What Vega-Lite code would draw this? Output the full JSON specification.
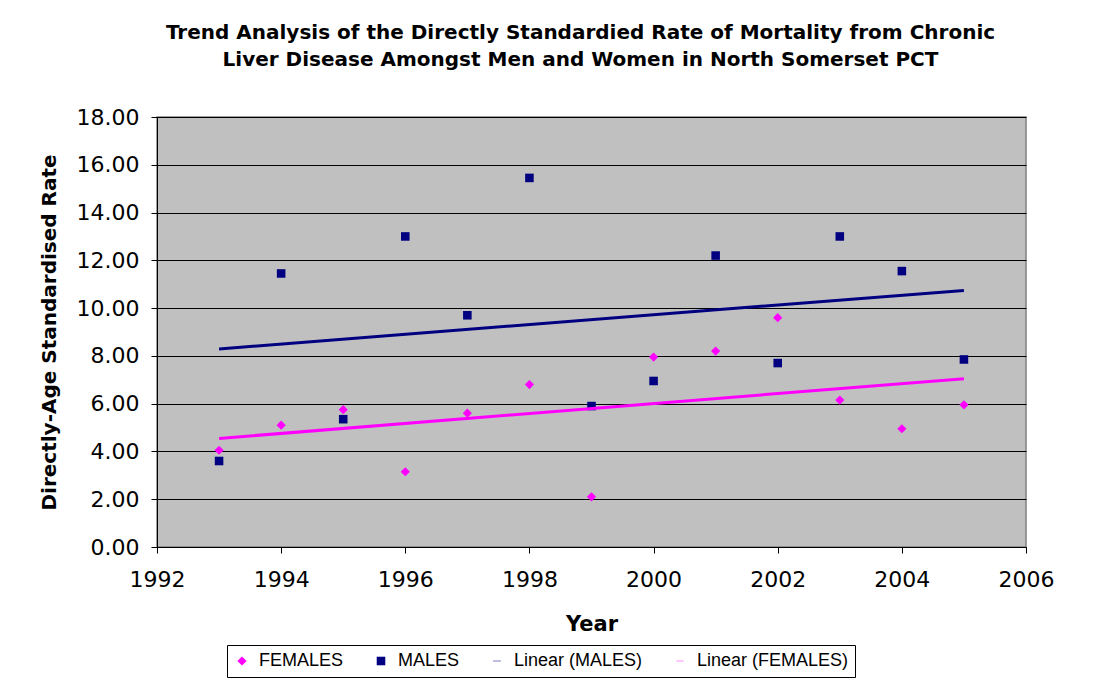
{
  "$schema": "https://vega.github.io/schema/vega-lite/v6.json",
  "width": 869,
  "height": 430,
  "autosize": "none",
  "padding": {"left": 157, "top": 117, "right": 84, "bottom": 134},
  "background": "white",
  "title": {
    "text": ["Trend Analysis of the Directly Standardied Rate of Mortality from Chronic", "Liver Disease Amongst Men and Women in North Somerset PCT"],
    "font": "DejaVu Sans",
    "fontSize": 20,
    "fontWeight": "bold",
    "color": "black",
    "anchor": "middle",
    "dx": -11,
    "offset": 36,
    "lineHeight": 27
  },
  "data": {
    "values": [
      {"year": 1993, "rate": 4.05, "series": "FEMALES", "trend": "Linear (FEMALES)"},
      {"year": 1994, "rate": 5.10, "series": "FEMALES", "trend": "Linear (FEMALES)"},
      {"year": 1995, "rate": 5.75, "series": "FEMALES", "trend": "Linear (FEMALES)"},
      {"year": 1996, "rate": 3.15, "series": "FEMALES", "trend": "Linear (FEMALES)"},
      {"year": 1997, "rate": 5.60, "series": "FEMALES", "trend": "Linear (FEMALES)"},
      {"year": 1998, "rate": 6.80, "series": "FEMALES", "trend": "Linear (FEMALES)"},
      {"year": 1999, "rate": 2.10, "series": "FEMALES", "trend": "Linear (FEMALES)"},
      {"year": 2000, "rate": 7.95, "series": "FEMALES", "trend": "Linear (FEMALES)"},
      {"year": 2001, "rate": 8.20, "series": "FEMALES", "trend": "Linear (FEMALES)"},
      {"year": 2002, "rate": 9.60, "series": "FEMALES", "trend": "Linear (FEMALES)"},
      {"year": 2003, "rate": 6.15, "series": "FEMALES", "trend": "Linear (FEMALES)"},
      {"year": 2004, "rate": 4.95, "series": "FEMALES", "trend": "Linear (FEMALES)"},
      {"year": 2005, "rate": 5.95, "series": "FEMALES", "trend": "Linear (FEMALES)"},
      {"year": 1993, "rate": 3.60, "series": "MALES", "trend": "Linear (MALES)"},
      {"year": 1994, "rate": 11.45, "series": "MALES", "trend": "Linear (MALES)"},
      {"year": 1995, "rate": 5.35, "series": "MALES", "trend": "Linear (MALES)"},
      {"year": 1996, "rate": 13.00, "series": "MALES", "trend": "Linear (MALES)"},
      {"year": 1997, "rate": 9.70, "series": "MALES", "trend": "Linear (MALES)"},
      {"year": 1998, "rate": 15.45, "series": "MALES", "trend": "Linear (MALES)"},
      {"year": 1999, "rate": 5.90, "series": "MALES", "trend": "Linear (MALES)"},
      {"year": 2000, "rate": 6.95, "series": "MALES", "trend": "Linear (MALES)"},
      {"year": 2001, "rate": 12.20, "series": "MALES", "trend": "Linear (MALES)"},
      {"year": 2002, "rate": 7.70, "series": "MALES", "trend": "Linear (MALES)"},
      {"year": 2003, "rate": 13.00, "series": "MALES", "trend": "Linear (MALES)"},
      {"year": 2004, "rate": 11.55, "series": "MALES", "trend": "Linear (MALES)"},
      {"year": 2005, "rate": 7.85, "series": "MALES", "trend": "Linear (MALES)"}
    ]
  },
  "encoding": {
    "x": {
      "field": "year",
      "type": "quantitative",
      "scale": {"domain": [1992, 2006], "nice": false, "zero": false},
      "axis": {
        "values": [1992, 1994, 1996, 1998, 2000, 2002, 2004, 2006],
        "format": "d",
        "title": "Year",
        "grid": false,
        "domainColor": "black",
        "tickColor": "black",
        "tickSize": 6,
        "labelFont": "DejaVu Sans",
        "labelFontSize": 22,
        "labelColor": "black",
        "labelPadding": 16,
        "labelFlush": false,
        "labelOverlap": false,
        "titleFont": "DejaVu Sans",
        "titleFontSize": 21,
        "titleFontWeight": "bold",
        "titleColor": "black",
        "titlePadding": 23
      }
    },
    "y": {
      "field": "rate",
      "type": "quantitative",
      "scale": {"domain": [0, 18], "nice": false},
      "axis": {
        "values": [0, 2, 4, 6, 8, 10, 12, 14, 16, 18],
        "format": ".2f",
        "title": "Directly-Age Standardised Rate",
        "grid": true,
        "gridColor": "black",
        "gridOpacity": 1,
        "gridWidth": 1,
        "domainColor": "black",
        "tickColor": "black",
        "tickSize": 6,
        "labelFont": "DejaVu Sans",
        "labelFontSize": 22,
        "labelColor": "black",
        "labelPadding": 12,
        "labelFlush": false,
        "titleFont": "DejaVu Sans",
        "titleFontSize": 20,
        "titleFontWeight": "bold",
        "titleColor": "black",
        "titlePadding": 17
      }
    }
  },
  "layer": [
    {
      "mark": {"type": "point", "filled": true, "opacity": 1, "strokeWidth": 0},
      "encoding": {
        "fill": {
          "field": "series",
          "type": "nominal",
          "scale": {
            "domain": ["FEMALES", "MALES", "Linear (MALES)", "Linear (FEMALES)"],
            "range": ["#FF00FF", "#000080", "#000080", "#FF00FF"]
          },
          "legend": {"title": null}
        },
        "shape": {
          "field": "series",
          "type": "nominal",
          "scale": {
            "domain": ["FEMALES", "MALES", "Linear (MALES)", "Linear (FEMALES)"],
            "range": ["diamond", "square", "M-1,-0.065L1,-0.065L1,0.065L-1,0.065Z", "M-1,-0.065L1,-0.065L1,0.065L-1,0.065Z"]
          },
          "legend": {"title": null}
        },
        "size": {
          "field": "series",
          "type": "nominal",
          "scale": {
            "domain": ["FEMALES", "MALES", "Linear (MALES)", "Linear (FEMALES)"],
            "range": [85, 50, 2304, 2304]
          },
          "legend": {"title": null}
        }
      }
    },
    {
      "transform": [{"regression": "rate", "on": "year", "groupby": ["trend"]}],
      "mark": {"type": "line", "strokeWidth": 3},
      "encoding": {
        "stroke": {
          "field": "trend",
          "type": "nominal",
          "scale": {"domain": ["Linear (MALES)", "Linear (FEMALES)"], "range": ["#000080", "#FF00FF"]},
          "legend": null
        }
      }
    }
  ],
  "config": {
    "view": {"stroke": "#808080", "strokeWidth": 1.5, "fill": "#C0C0C0"},
    "legend": {
      "orient": "none",
      "legendX": 70,
      "legendY": 528,
      "direction": "horizontal",
      "columns": 4,
      "strokeColor": "black",
      "fillColor": "white",
      "padding": 6,
      "labelFont": "Liberation Sans",
      "labelFontSize": 18,
      "labelColor": "black",
      "labelOffset": 8,
      "columnPadding": 28,
      "clipHeight": 20,
      "symbolOpacity": 1
    }
  }
}
